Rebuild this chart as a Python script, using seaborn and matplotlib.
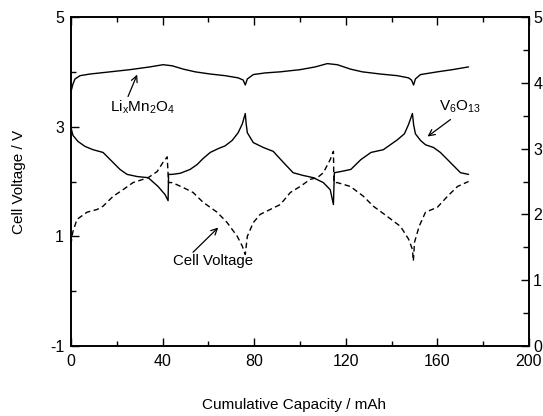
import numpy as np
import pandas as pd
import matplotlib
matplotlib.use("Agg")
import matplotlib.pyplot as plt
from matplotlib.ticker import MultipleLocator
import seaborn as sns

# ---------------- data ----------------
mn_x = [0, 0.87, 1.75, 3.94, 8.3, 17.1, 25.8, 34.5, 40.2, 44.2, 49, 54.2, 60.8, 67.3, 73, 75.2,
        76.1, 77, 79.6, 84.8, 91.4, 100.1, 106.7, 111.9, 116.3, 122, 127.2, 135.1, 142.5, 147.4,
        148.7, 149.6, 150.4, 152.6, 160, 166.6, 173.6]
mn_v = [3.64, 3.78, 3.87, 3.93, 3.96, 4.0, 4.04, 4.09, 4.13, 4.11, 4.05, 4.0, 3.96, 3.93, 3.89, 3.85,
        3.76, 3.87, 3.95, 3.98, 4.0, 4.04, 4.09, 4.15, 4.13, 4.05, 4.0, 3.96, 3.93, 3.89,
        3.85, 3.76, 3.87, 3.95, 4.0, 4.04, 4.09]

vo_x = [0, 0.87, 3.06, 6.12, 9.62, 14, 17.1, 21.4, 24.5, 28.9, 33.7, 38, 41.1, 42.4, 42.6, 44.2,
        47.7, 52, 55.1, 57.7, 60.8, 64.3, 67.3, 70.4, 73, 74.8, 76.1, 76.5, 77, 79.6, 84, 88.3,
        92.7, 97, 101.4, 105.8, 110.2, 113.2, 114.6, 115, 117.6, 122.2, 126.6, 131, 136.4, 142.5,
        145.6, 147.4, 149.1, 149.6, 150.4, 152.6, 154.8, 158.3, 161.3, 164.4, 167, 170.1, 173.6]
vo_v = [2.98, 2.84, 2.73, 2.64, 2.58, 2.53, 2.4, 2.22, 2.13, 2.09, 2.07, 1.91, 1.76, 1.65, 2.13, 2.13,
        2.15, 2.22, 2.31, 2.42, 2.53, 2.6, 2.65, 2.75, 2.89, 3.05, 3.24, 3.05, 2.89, 2.71, 2.62, 2.55,
        2.35, 2.16, 2.11, 2.07, 1.98, 1.85, 1.58, 2.16, 2.18, 2.22, 2.4, 2.53, 2.58, 2.76,
        2.87, 3.04, 3.24, 3.04, 2.87, 2.75, 2.67, 2.62, 2.53, 2.4, 2.29, 2.16, 2.13]

cell_x = [0, 0.44, 0.87, 2.62, 7, 11.4, 14, 18.4, 22.7, 27.1, 33.7, 37.6, 40.2, 42, 42.6, 44.2,
          49, 53.3, 57.7, 63.8, 68.2, 72.6, 74.8, 76.1, 77, 79.6, 82.6, 87, 91.4, 95.8, 100.1,
          104.5, 107.6, 110.2, 113.2, 114.6, 114.8, 116.3, 122, 127.7, 132, 138.2, 143.9, 147.4,
          149.1, 149.5, 150, 152, 154.8, 160, 164.4, 168.8, 173.6]
cell_v = [0.85, 1.0, 1.09, 1.31, 1.44, 1.49, 1.55, 1.73, 1.85, 1.98, 2.07, 2.18, 2.35, 2.45, 1.98, 1.98,
          1.89, 1.8, 1.62, 1.44, 1.25, 1.0, 0.82, 0.67, 1.0, 1.25, 1.4, 1.49, 1.58, 1.8, 1.91,
          2.04, 2.07, 2.16, 2.4, 2.55, 1.98, 1.98, 1.91, 1.73, 1.55, 1.36, 1.18, 0.95,
          0.76, 0.55, 0.89, 1.18, 1.44, 1.53, 1.73, 1.91, 2.0]

x_ticks = [0, 40, 80, 120, 160, 200]
left_ticks = [-1, 1, 3, 5]
right_ticks = [0, 1, 2, 3, 4, 5]

# ---------------- style ----------------
sns.set_style("ticks")
plt.rcParams["font.family"] = ["Liberation Sans", "DejaVu Sans"]
plt.rcParams["mathtext.default"] = "regular"
plt.rcParams["axes.unicode_minus"] = False
for k in ["text.color", "axes.labelcolor", "xtick.color", "ytick.color", "axes.edgecolor"]:
    plt.rcParams[k] = "black"

fig = plt.figure(figsize=(5.43, 4.16), dpi=100)
ax = fig.add_axes([71 / 543, 1 - 346 / 416, (529 - 71) / 543, (346 - 17) / 416])

df_mn = pd.DataFrame({"x": mn_x, "v": mn_v})
df_vo = pd.DataFrame({"x": vo_x, "v": vo_v})
df_cell = pd.DataFrame({"x": cell_x, "v": cell_v})

sns.lineplot(data=df_mn, x="x", y="v", ax=ax, color="black", lw=1.0,
             estimator=None, sort=False)
sns.lineplot(data=df_vo, x="x", y="v", ax=ax, color="black", lw=1.0,
             estimator=None, sort=False)
sns.lineplot(data=df_cell, x="x", y="v", ax=ax, color="black", lw=1.0,
             estimator=None, sort=False, linestyle=(0, (4, 2.5)))

ax.set_xlim(0, 200)
ax.set_ylim(-1, 5)
ax.set_xticks(x_ticks)
ax.set_yticks(left_ticks)
ax.xaxis.set_minor_locator(MultipleLocator(20))
ax.yaxis.set_minor_locator(MultipleLocator(1))
ax.tick_params(which="both", direction="in", top=True, right=False,
               labelsize=11.5, width=1.0, color="black")
ax.tick_params(which="major", length=6)
ax.tick_params(which="minor", length=3.5)
ax.tick_params(axis="x", pad=6)
ax.tick_params(axis="y", pad=5)

ax.set_xlabel("Cumulative Capacity / mAh", fontsize=11)
ax.set_ylabel("Cell Voltage / V", fontsize=11)
ax.xaxis.set_label_coords(0.487, -0.158)
ax.yaxis.set_label_coords(-0.098, 0.5)

for s in ax.spines.values():
    s.set_linewidth(1.2)
    s.set_color("black")

ax2 = ax.twinx()
ax2.set_ylim(0, 5)
ax2.set_yticks(right_ticks)
ax2.yaxis.set_minor_locator(MultipleLocator(0.5))
ax2.tick_params(which="both", direction="in", labelsize=11.5, width=1.0, pad=3)
ax2.tick_params(which="major", length=6)
ax2.tick_params(which="minor", length=4)
for s in ax2.spines.values():
    s.set_linewidth(1.2)
    s.set_color("black")

# annotations: text labels and separate arrows
arrow_kw = dict(arrowstyle="->", color="black", lw=0.9, shrinkA=0, shrinkB=0,
                mutation_scale=11)
ax.text(31, 3.35, r"Li$_x$Mn$_2$O$_4$", fontsize=11, ha="center", va="center")
ax.annotate("", xy=(28.9, 3.95), xytext=(24.9, 3.55), arrowprops=arrow_kw)

ax.text(170, 3.36, r"V$_6$O$_{13}$", fontsize=11, ha="center", va="center")
ax.annotate("", xy=(155.7, 2.82), xytext=(165.7, 3.13), arrowprops=arrow_kw)

ax.text(62, 0.55, "Cell Voltage", fontsize=10.8, ha="center", va="center")
ax.annotate("", xy=(64.3, 1.16), xytext=(53.3, 0.71), arrowprops=arrow_kw)

fig.savefig("out.png", dpi=100)
